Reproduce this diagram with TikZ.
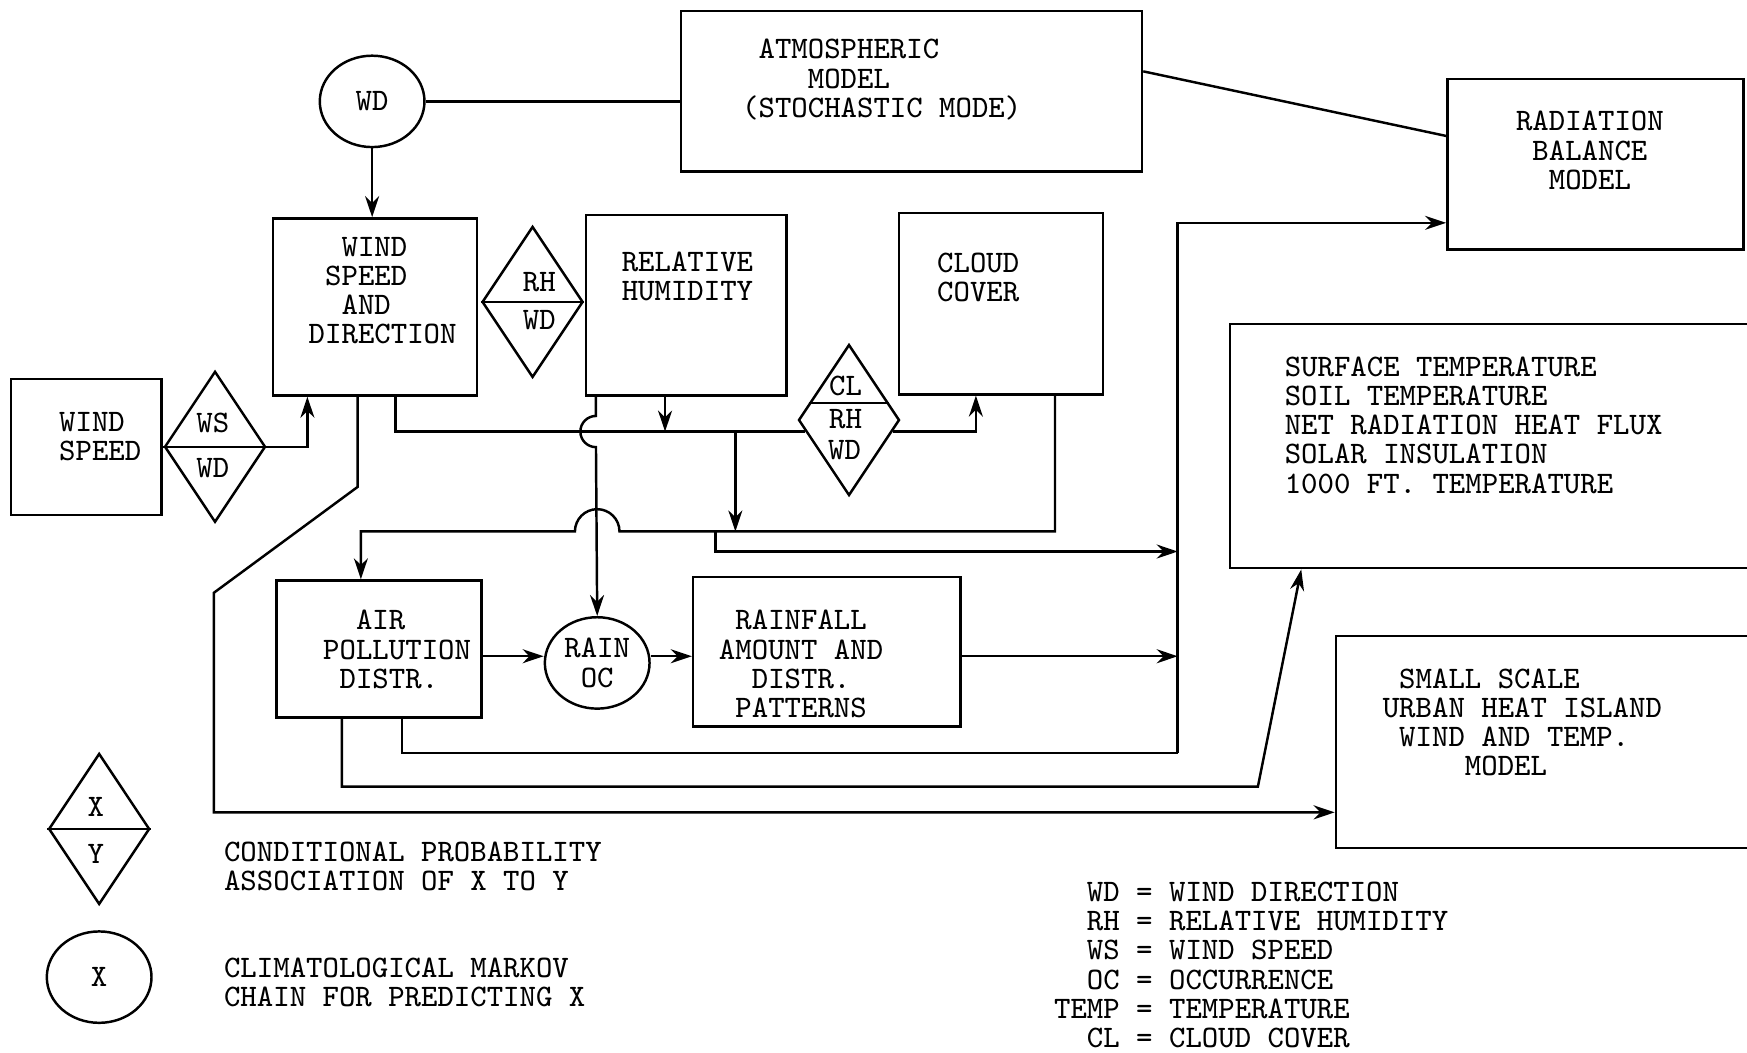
\documentclass[tikz,border=0pt]{standalone}
\usepackage{fontspec}
\usetikzlibrary{arrows.meta,shapes.geometric,calc,fit}
\newcommand\chpad[1]{\hspace*{#1\dimexpr 0.525em\relax}}
\tikzset{
  blk/.style={draw, inner sep=0pt},
  lbl/.style={inner sep=0pt, align=left, font={\ttfamily\fontsize{8.9}{8.3}\selectfont\frenchspacing}},
  clbl/.style={lbl, align=center},
  cond/.style={draw, diamond, inner sep=0pt, minimum width=10.1mm, minimum height=15.1mm},
  markov/.style={draw, ellipse, clbl, minimum width=10.47mm, minimum height=9.14mm},
  arr/.style={-{Stealth[length=2.1mm,width=1.4mm]}},
}
\begin{document}
\begin{tikzpicture}[x=0.11142mm, y=-0.11142mm, line width=0.7pt]
\useasboundingbox (0,0) rectangle (1568,945);

% blocks
\node[blk, fit={(10,340) (145,462)}] (ws) {};
\node[blk, fit={(245,196) (428,355)}] (wsd) {};
\node[blk, fit={(526,193) (706,355)}] (rh) {};
\node[blk, fit={(807,191) (990,354)}] (cc) {};
\node[blk, fit={(611,10) (1025,154)}] (atm) {};
\node[blk, fit={(1299,71) (1565,224)}] (rad) {};
\node[blk, fit={(1104,291) (1590,510)}] (sfc) {};
\node[blk, fit={(1199,571) (1590,761)}] (sml) {};
\node[blk, fit={(248,521) (432,644)}] (apd) {};
\node[blk, fit={(622,518) (862,652)}] (rfl) {};

% markov chains and conditional links
\node[markov] (wdC) at (334,91) {WD};
\node[markov] (rainC) at (536,595) {RAIN\\OC};
\node[cond] (wsD) at (193,401) {};
\node[cond] (rhD) at (478,271) {};
\node[cond] (clD) at (762,377) {};
\draw (wsD.west) -- (wsD.east);
\draw (rhD.west) -- (rhD.east);
\draw ($(clD.west)!0.22!(clD.north)$) -- ($(clD.east)!0.22!(clD.north)$);

% texts
\node[lbl, anchor=west] (wsT) at (52,392) {WIND\\SPEED};
\node[lbl] (wsTa) at (191,380) {WS};
\node[lbl] (wsTb) at (191,420) {WD};
\node[lbl, anchor=west] (wsdT) at (276,261) {\chpad{2}WIND\\\chpad{1}SPEED\\\chpad{2}AND\\DIRECTION};
\node[lbl, anchor=west] (atmT) at (665,71.5) {\chpad{1}ATMOSPHERIC\\\chpad{4}MODEL\\(STOCHASTIC MODE)};
\node[clbl] (radT) at (1427,135) {RADIATION\\BALANCE\\MODEL};
\node[clbl] (rhT) at (617,248) {RELATIVE\\HUMIDITY};
\node[lbl] (rhTa) at (484,253) {RH};
\node[lbl] (rhTb) at (484,287) {WD};
\node[clbl] (ccT) at (878,249) {CLOUD\\COVER};
\node[lbl] (clTa) at (759,346) {CL};
\node[lbl] (clTb) at (759,376) {RH};
\node[lbl] (clTc) at (758,404) {WD};
\node[lbl, anchor=west] (sfcT) at (1152,381.5) {SURFACE TEMPERATURE\\SOIL TEMPERATURE\\NET RADIATION HEAT FLUX\\SOLAR INSULATION\\1000 FT. TEMPERATURE};
\node[lbl, anchor=west] (smlT) at (1240,648.5) {\chpad{1}SMALL SCALE\\URBAN HEAT ISLAND\\\chpad{1}WIND AND TEMP.\\\chpad{5}MODEL};
\node[lbl, anchor=west] (apdT) at (289,583) {\chpad{2}AIR\\POLLUTION\\\chpad{1}DISTR.};
\node[clbl] (rflT) at (719,596) {RAINFALL\\AMOUNT AND\\DISTR.\\PATTERNS};

% tap points
\coordinate (wsdIn) at ($(wsd.south west)+(32,0)$);
\coordinate (wsdTapA) at ($(wsd.south west)+(77,0)$);
\coordinate (wsdTapB) at ($(wsd.south west)+(111,0)$);
\coordinate (rhTapA) at ($(rh.south west)+(10,0)$);
\coordinate (rhTapB) at ($(rh.south west)+(72,0)$);
\coordinate (ccIn) at ($(cc.south west)+(70,0)$);
\coordinate (ccTap) at ($(cc.south west)+(141,0)$);
\coordinate (apdIn) at ($(apd.north west)+(77,0)$);
\coordinate (apdTapA) at ($(apd.south west)+(60,0)$);
\coordinate (apdTapB) at ($(apd.south west)+(114,0)$);
\coordinate (sfcIn) at ($(sfc.south west)+(65,0)$);
\coordinate (smlIn) at ($(sml.south west)+(0,-33)$);
\coordinate (clIn) at ($(clD.west)!0.15!(clD.south)$);
\coordinate (clOut) at ($(clD.east)!0.15!(clD.south)$);
\coordinate (hopB) at (536,477);
\coordinate (tapA) at (660,387);
\coordinate (tapB) at (660,477);
\coordinate (tapC) at (642,477);
\coordinate (busTop) at (1057,200);
\coordinate (busMid) at (1057,495);
\coordinate (busBot) at (1057,676);
\coordinate (kink) at (1129,706);
\coordinate (bendA) at (321,437);
\coordinate (bendB) at (192,532);
\coordinate (flow) at (0,589);

% connectors
\draw (wdC.east) -- (wdC.east -| atm.west);
\draw[arr] (wdC.south) -- (wdC.south |- wsd.north);
\draw ([yshift=2mm]atm.east) -- ([yshift=2.84mm]rad.west);
\draw[arr] (wsD.east) -| (wsdIn);
\draw (wsdTapB) |- (clIn);
\draw[arr] (clOut) -| (ccIn);
\draw[arr] (rhTapB) -- (rhTapB |- clIn);
\draw[arr] (rhTapA) -- ([yshift=1.56mm]rhTapA |- clIn) arc(-90:-270:14) -- (rainC.north);
\draw[arr] (ccTap) |- ([xshift=2.23mm]hopB) arc(0:-180:20) -| (apdIn);
\draw[arr] (tapA) -- (tapB);
\draw[arr] (tapC) |- (busMid);
\draw[arr] (busBot) -- (busTop) -- (busTop -| rad.west);
\draw[arr] (apd.east |- flow) -- (rainC.west |- flow);
\draw[arr] (rainC.east |- flow) -- (rfl.west |- flow);
\draw[arr] (rfl.east |- flow) -- (busTop |- flow);
\draw (apdTapB) |- (busBot);
\draw[arr] (apdTapA) |- (kink) -- (sfcIn);
\draw[arr] (wsdTapA) -- (bendA) -- (bendB) |- (smlIn);

% legend
\node[cond] (xD) at (89,744) {};
\draw (xD.west) -- (xD.east);
\node[lbl] (xDa) at (86,724) {X};
\node[lbl] (xDb) at (86,766) {Y};
\node[markov] (xC) at (89,877) {X};
\node[lbl, anchor=west] (condT) at (200,777.5) {CONDITIONAL PROBABILITY\\ASSOCIATION OF X TO Y};
\node[lbl, anchor=west] (markT) at (200,882) {CLIMATOLOGICAL MARKOV\\CHAIN FOR PREDICTING X};
\node[lbl, anchor=west] (abbrT) at (945,866) {\chpad{2}WD = WIND DIRECTION\\\chpad{2}RH = RELATIVE HUMIDITY\\\chpad{2}WS = WIND SPEED\\\chpad{2}OC = OCCURRENCE\\TEMP = TEMPERATURE\\\chpad{2}CL = CLOUD COVER};
\end{tikzpicture}
\end{document}
